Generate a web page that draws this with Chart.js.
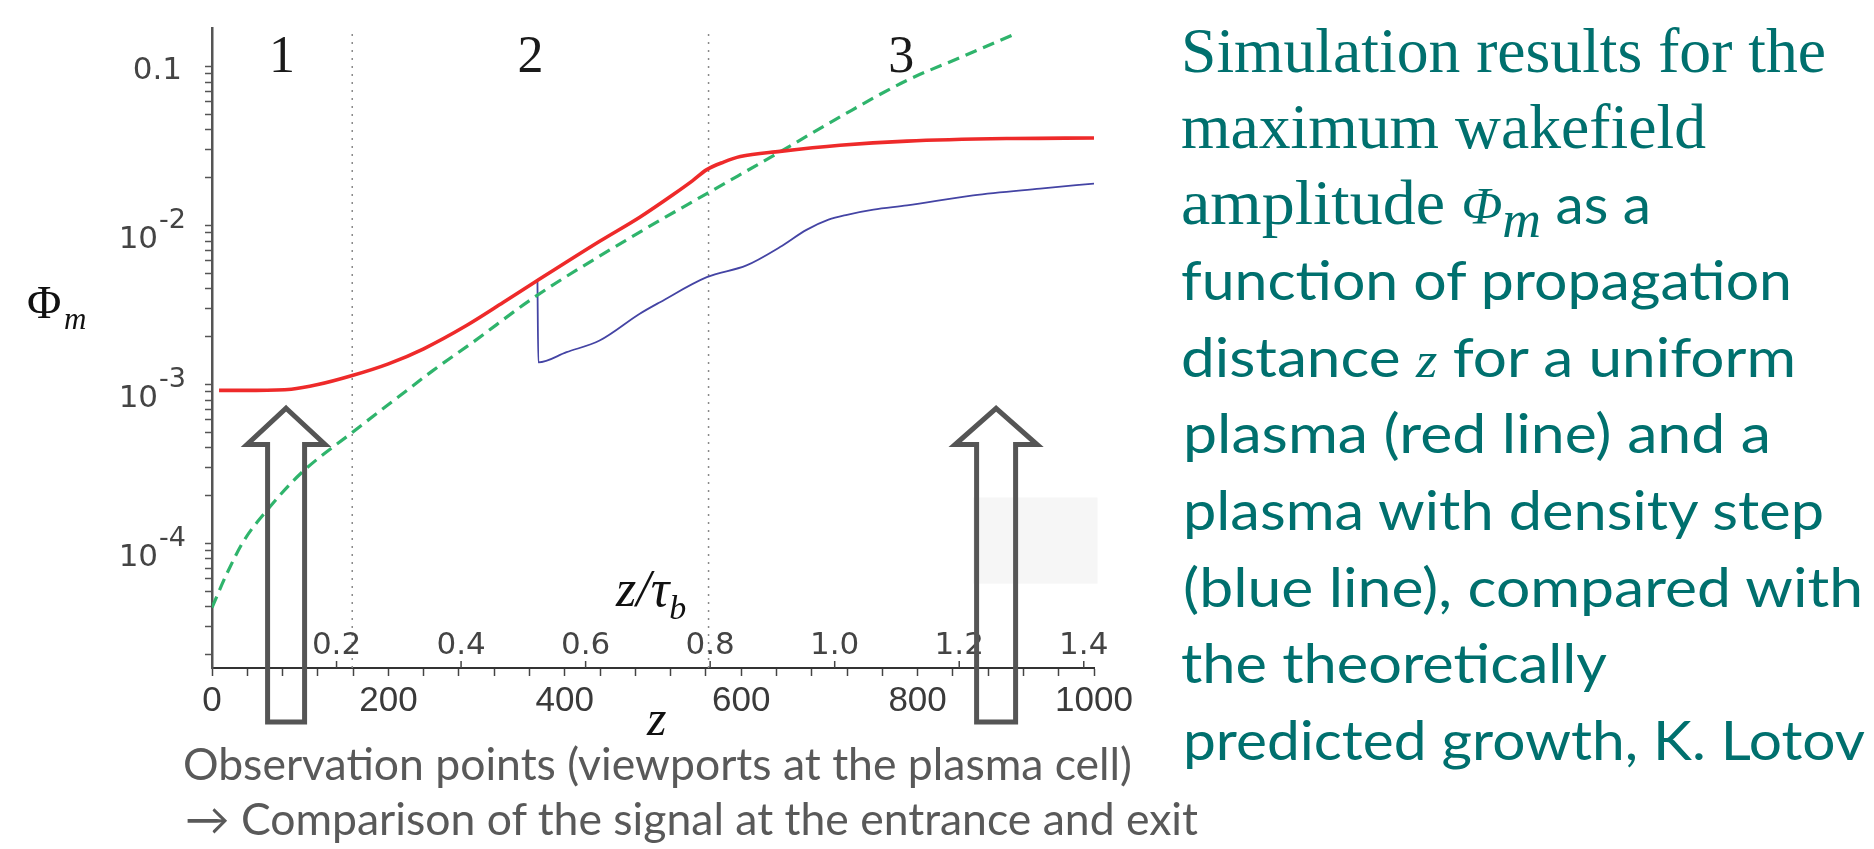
<!DOCTYPE html>
<html lang="en">
<head>
<meta charset="utf-8">
<title>Maximum wakefield amplitude vs propagation distance</title>
<script src="https://cdn.jsdelivr.net/npm/chart.js@4.4.1/dist/chart.umd.min.js"></script>
<style>
  html, body { margin: 0; padding: 0; background: #fff; }
  body { position: relative; width: 1874px; height: 849px; overflow: hidden; }
  #plot { position: absolute; left: 0; top: 0; }
  .t { position: absolute; top: 0; white-space: nowrap; line-height: 1; transform-origin: 0 0; }
  .axt { color: #111; }
  .note { color: #595959; font-family: Lato, 'Open Sans', sans-serif; font-size: 44px; }
  .cap { color: #00706e; font-family: Lato, 'Open Sans', sans-serif; font-size: 55px; }
  .serif, .cap.serif { font-family: 'Liberation Serif', 'Times New Roman', serif; }
  .it { font-style: italic; }
</style>
</head>
<body>
<canvas id="plot" width="1150" height="849"></canvas>

<!-- axis titles -->
<div class="t serif axt" style="left:27px; font-size:47px" data-base="318">Φ</div>
<div class="t serif it axt" style="left:64px; font-size:31px" data-base="329">m</div>
<div class="t serif it axt" style="left:647px; font-size:50px" data-base="735">z</div>
<div class="t serif it axt" style="left:616px; font-size:52px" data-base="606">z/τ<span style="font-size:34px; position:relative; top:13px">b</span></div>

<!-- notes under the plot -->
<div class="t note" style="left:183px" data-base="780" data-w="949">Observation points (viewports at the plasma cell)</div>
<div class="t note" style="left:185px" data-base="835" data-w="1013">→ Comparison of the signal at the entrance and exit</div>

<!-- caption on the right -->
<div class="t cap serif" style="left:1181px; font-size:64px" data-base="72" data-w="645">Simulation results for the</div>
<div class="t cap serif" style="left:1181px; font-size:64px" data-base="148" data-w="525">maximum wakefield</div>
<div class="t cap" style="left:1181px" data-base="224" data-w="470"><span class="serif" style="font-size:64px">amplitude </span><span class="serif it" style="font-size:52px">Φ</span><span class="serif it" style="font-size:52px; position:relative; top:13px">m</span> as a</div>
<div class="t cap" style="left:1181px" data-base="300" data-w="611">function of propagation</div>
<div class="t cap" style="left:1181px" data-base="377" data-w="615">distance <span class="serif it" style="font-size:50px">z</span> for a uniform</div>
<div class="t cap" style="left:1183px" data-base="453" data-w="588">plasma (red line) and a</div>
<div class="t cap" style="left:1183px" data-base="530" data-w="641">plasma with density step</div>
<div class="t cap" style="left:1183px" data-base="607" data-w="680">(blue line), compared with</div>
<div class="t cap" style="left:1181px" data-base="683" data-w="426">the theoretically</div>
<div class="t cap" style="left:1183px" data-base="760" data-w="682">predicted growth, K. Lotov</div>

<script>
// ---- data ----
const zTicks = [0, 200, 400, 600, 800, 1000];
const tauTicks = [0.2, 0.4, 0.6, 0.8, 1.0, 1.2, 1.4];
const tauB = 706;                       // z units per unit of z/tau_b
const regionEdges = [0, 159, 563, 1000];
const regionNames = ['1', '2', '3'];
const phiDecades = [1e-4, 1e-3, 1e-2, 0.1];
const phiDecadeLabels = [['10', '-4'], ['10', '-3'], ['10', '-2'], ['0.1', '']];
const phiMin = 1.65e-5;
const phiMax = 0.175;

// uniform plasma (red)
const redZ   = [8, 50, 90, 120, 159, 200, 240, 289, 330, 368, 440, 485, 523, 545, 561, 580, 599, 644, 712, 788, 901, 1000];
const redPhi = [9.2e-4, 9.2e-4, 9.35e-4, 1.0e-3, 1.14e-3, 1.35e-3, 1.68e-3, 2.36e-3, 3.28e-3, 4.48e-3, 8.0e-3,
                1.13e-2, 1.57e-2, 1.92e-2, 2.25e-2, 2.51e-2, 2.72e-2, 2.93e-2, 3.2e-2, 3.4e-2, 3.53e-2, 3.56e-2];

// plasma with density step (blue)
const blueZ   = [369, 370, 402, 440, 485, 508, 561, 606, 644, 674, 699, 720, 750, 788, 863, 939, 1000];
const bluePhi = [4.45e-3, 1.38e-3, 1.6e-3, 1.9e-3, 2.79e-3, 3.3e-3, 4.74e-3, 5.62e-3, 7.33e-3, 9.4e-3,
                 1.09e-2, 1.17e-2, 1.26e-2, 1.34e-2, 1.55e-2, 1.71e-2, 1.84e-2];

// theoretical growth (green dashed)
const greenZ   = [0, 17, 36, 62, 100, 159, 213, 250, 296, 364, 485, 561, 644, 712, 788, 850, 910];
const greenPhi = [3.96e-5, 6.5e-5, 1.04e-4, 1.61e-4, 2.74e-4, 5.0e-4, 8.5e-4, 1.22e-3, 1.85e-3, 3.5e-3,
                  9.1e-3, 1.59e-2, 2.91e-2, 4.83e-2, 8.2e-2, 0.115, 0.16];

const pts = (xs, ys) => xs.map((x, i) => ({ x, y: ys[i] }));

function logTicks() {
  const out = [];
  for (let e = -5; e <= -1; e++) {
    for (let k = 1; k <= 9; k++) {
      const v = k * Math.pow(10, e);
      if (v >= phiMin && v <= phiMax) out.push({ value: v });
    }
  }
  return out;
}

const boundary = z => ({
  data: [{ x: z, y: phiMin }, { x: z, y: phiMax }],
  borderColor: '#8a8a8a', borderWidth: 1.5, borderDash: [2, 6], tension: 0
});

// hollow up-arrow marking an observation point
function hollowArrow(ctx, cx, tipY, headY, bottomY, headHalf, shaftHalf) {
  ctx.beginPath();
  ctx.moveTo(cx, tipY);
  ctx.lineTo(cx + headHalf, headY);
  ctx.lineTo(cx + shaftHalf, headY);
  ctx.lineTo(cx + shaftHalf, bottomY);
  ctx.lineTo(cx - shaftHalf, bottomY);
  ctx.lineTo(cx - shaftHalf, headY);
  ctx.lineTo(cx - headHalf, headY);
  ctx.closePath();
  ctx.stroke();
}

const decor = {
  id: 'decor',
  beforeDatasetsDraw(chart) {
    const { ctx, scales: { x, y } } = chart;
    // faint grey patch present in the original slide
    ctx.save();
    ctx.fillStyle = '#f6f6f6';
    const x0 = x.getPixelForValue(863), x1 = x.getPixelForValue(1004);
    const y0 = y.getPixelForValue(1.95e-4), y1 = y.getPixelForValue(5.6e-5);
    ctx.fillRect(x0, y0, x1 - x0, y1 - y0);
    ctx.restore();
  },
  afterDatasetsDraw(chart) {
    const { ctx, scales: { x, y } } = chart;
    const axisY = y.bottom;
    ctx.save();

    // region numbers, centred between the boundaries
    ctx.fillStyle = '#1a1a1a';
    ctx.font = '52px "Liberation Serif"';
    ctx.textAlign = 'center';
    ctx.textBaseline = 'alphabetic';
    regionNames.forEach((name, i) => {
      const mid = (regionEdges[i] + regionEdges[i + 1]) / 2;
      ctx.fillText(name, x.getPixelForValue(mid), 72);
    });

    // z / tau_b scale drawn just above the z axis
    ctx.strokeStyle = '#444';
    ctx.lineWidth = 1.5;
    ctx.fillStyle = '#444';
    ctx.font = '31px "DejaVu Sans"';
    tauTicks.forEach(t => {
      const px = x.getPixelForValue(t * tauB);
      ctx.beginPath();
      ctx.moveTo(px, axisY);
      ctx.lineTo(px, axisY - 7);
      ctx.stroke();
      ctx.fillText(t.toFixed(1), px, axisY - 14);
    });

    // decade labels on the Phi axis
    ctx.textAlign = 'right';
    phiDecades.forEach((v, i) => {
      const py = y.getPixelForValue(v);
      const [base, exp] = phiDecadeLabels[i];
      const right = 186;
      if (exp) {
        ctx.font = '27px "DejaVu Sans"';
        ctx.fillText(exp, right, py + 2);
        const w = ctx.measureText(exp).width;
        ctx.font = '31px "DejaVu Sans"';
        ctx.fillText(base, right - w - 1, py + 22);
      } else {
        ctx.font = '31px "DejaVu Sans"';
        ctx.fillText(base, right - 4, py + 12);
      }
    });

    // observation point arrows
    ctx.strokeStyle = '#555';
    ctx.lineWidth = 5;
    ctx.lineJoin = 'miter';
    const tipY = y.getPixelForValue(7.1e-4);
    const headY = y.getPixelForValue(4.2e-4);
    hollowArrow(ctx, x.getPixelForValue(84), tipY, headY, axisY + 54, 39, 18.5);
    hollowArrow(ctx, x.getPixelForValue(889), tipY, headY, axisY + 54, 41, 19.5);
    ctx.restore();
  }
};

new Chart(document.getElementById('plot'), {
  type: 'line',
  data: {
    datasets: [
      { label: 'uniform plasma', data: pts(redZ, redPhi), borderColor: '#ee2a2a', borderWidth: 3.6,
        cubicInterpolationMode: 'monotone' },
      { label: 'theory', data: pts(greenZ, greenPhi), borderColor: '#2fb46c', borderWidth: 3.2,
        borderDash: [12, 7], cubicInterpolationMode: 'monotone' },
      { label: 'density step', data: pts(blueZ, bluePhi), borderColor: '#4444a4', borderWidth: 1.8,
        cubicInterpolationMode: 'monotone' },
      boundary(regionEdges[1]),
      boundary(regionEdges[2])
    ]
  },
  options: {
    responsive: false,
    animation: false,
    devicePixelRatio: 1,
    layout: { padding: { left: 0, right: 56, top: 28, bottom: 121 } },
    elements: { point: { radius: 0 } },
    plugins: { legend: { display: false }, tooltip: { enabled: false } },
    scales: {
      x: {
        type: 'linear', min: 0, max: 1000,
        border: { color: '#333', width: 2 },
        grid: { drawOnChartArea: false, tickLength: 8, tickColor: '#444', tickWidth: 1.5 },
        ticks: {
          stepSize: 40, autoSkip: false, maxRotation: 0, padding: 4,
          color: '#3a3a3a', font: { family: 'Liberation Sans', size: 35 },
          callback: v => zTicks.includes(Math.round(v)) ? String(Math.round(v)) : ''
        },
        afterFit: s => { s.height = 60; }
      },
      y: {
        type: 'logarithmic', min: phiMin, max: phiMax,
        border: { color: '#555', width: 2.5 },
        grid: { drawOnChartArea: false, tickLength: 7, tickColor: '#555', tickWidth: 1.5 },
        afterBuildTicks: s => { s.ticks = logTicks(); },
        ticks: { autoSkip: false, callback: () => '' },
        afterFit: s => { s.width = 212; }
      }
    }
  },
  plugins: [decor]
});

// put each text line on its baseline and stretch it to the measured width
function placeText() {
  document.querySelectorAll('.t').forEach(el => {
    let mark = el.querySelector('i.mk');
    if (!mark) {
      mark = document.createElement('i');
      mark.className = 'mk';
      mark.style.cssText = 'display:inline-block;width:0;height:0;';
      el.insertBefore(mark, el.firstChild);
    }
    el.style.transform = 'none';
    el.style.top = '0px';
    const w = el.getBoundingClientRect().width;
    const base = mark.getBoundingClientRect().bottom;
    el.style.top = (+el.dataset.base - base) + 'px';
    if (el.dataset.w) el.style.transform = 'scaleX(' + (el.dataset.w / w) + ')';
  });
}
placeText();
if (document.fonts && document.fonts.ready) document.fonts.ready.then(placeText);
</script>
</body>
</html>
